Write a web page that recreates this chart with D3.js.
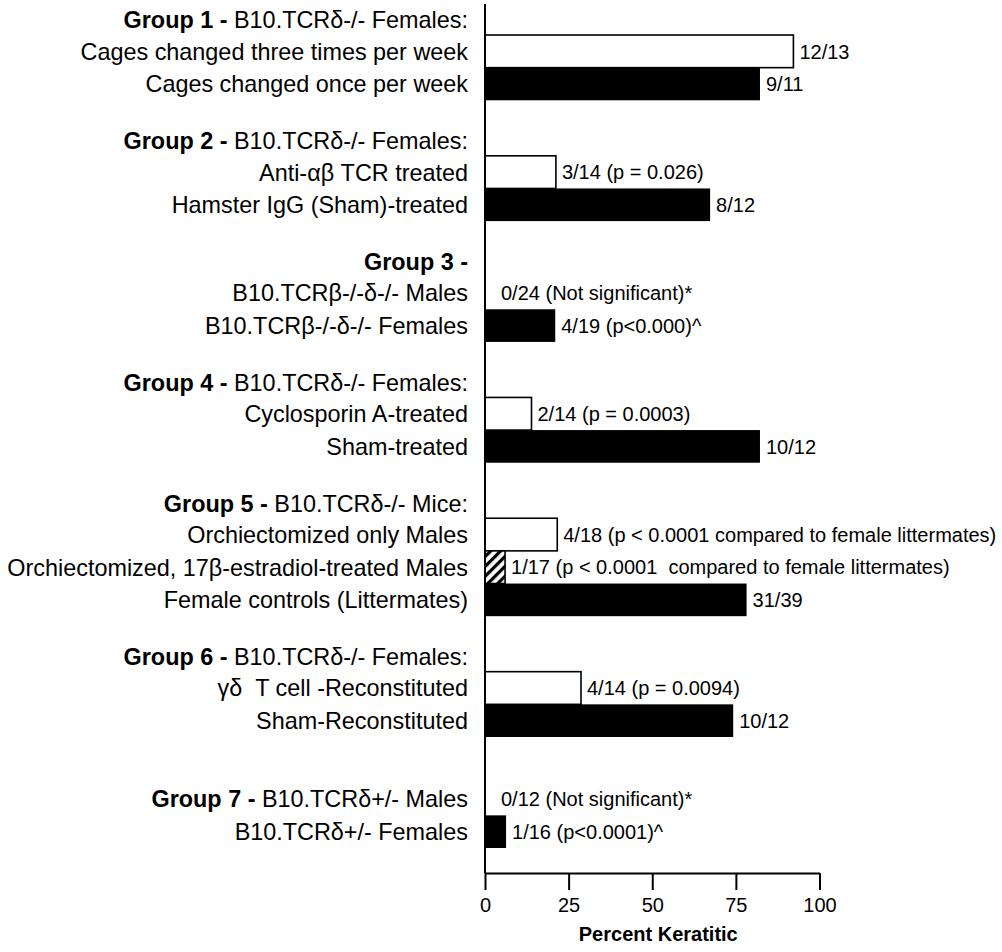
<!DOCTYPE html>
<html>
<head>
<meta charset="utf-8">
<script src="https://cdn.jsdelivr.net/npm/d3@7/dist/d3.min.js"></script>
<style>
  html, body { margin: 0; padding: 0; background: #fff; }
  text { font-family: "Liberation Sans", Arial, Helvetica, sans-serif; fill: #000; white-space: pre; }
</style>
</head>
<body>
<svg id="chart" width="1002" height="952"></svg>
<script>
// ---------- data ----------
const groupBold = ["Group 1 -", "Group 2 -", "Group 3 -", "Group 4 -", "Group 5 -", "Group 6 -", "Group 7 -"];
// null = the group title shares the line of the first bar label
const groupSubtitle = [" B10.TCRδ-/- Females:", " B10.TCRδ-/- Females:", "", " B10.TCRδ-/- Females:", " B10.TCRδ-/- Mice:", " B10.TCRδ-/- Females:", null];

const barGroup = [0, 0, 1, 1, 2, 2, 3, 3, 4, 4, 4, 5, 5, 6, 6];
const barLabels = [
  "Cages changed three times per week",
  "Cages changed once per week",
  "Anti-αβ TCR treated",
  "Hamster IgG (Sham)-treated",
  "B10.TCRβ-/-δ-/- Males",
  "B10.TCRβ-/-δ-/- Females",
  "Cyclosporin A-treated",
  "Sham-treated",
  "Orchiectomized only Males",
  "Orchiectomized, 17β-estradiol-treated Males",
  "Female controls (Littermates)",
  "γδ  T cell -Reconstituted",
  "Sham-Reconstituted",
  "B10.TCRδ+/- Males",
  "B10.TCRδ+/- Females"
];
const barValues = [92.2, 82.2, 21.2, 67.3, 0, 21.0, 13.9, 82.2, 21.6, 6.0, 78.2, 28.7, 74.2, 0, 6.3];
const barKind = ["test", "control", "test", "control", "test", "control", "test", "control",
                 "test", "estradiol", "control", "test", "control", "test", "control"];
const barNotes = [
  "12/13", "9/11",
  "3/14 (p = 0.026)", "8/12",
  "0/24 (Not significant)*", "4/19 (p<0.000)^",
  "2/14 (p = 0.0003)", "10/12",
  "4/18 (p < 0.0001 compared to female littermates)",
  "1/17 (p < 0.0001  compared to female littermates)",
  "31/39",
  "4/14 (p = 0.0094)", "10/12",
  "0/12 (Not significant)*", "1/16 (p<0.0001)^"
];
const xTicks = [0, 25, 50, 75, 100];
const xTitle = "Percent Keratitic";

// ---------- layout ----------
const svg = d3.select("#chart");
const defs = svg.append("defs");
const pat = defs.append("pattern")
  .attr("id", "hatch").attr("patternUnits", "userSpaceOnUse")
  .attr("width", 7).attr("height", 7)
  .attr("patternTransform", "rotate(45)");
pat.append("rect").attr("width", 7).attr("height", 7).attr("fill", "#fff");
pat.append("rect").attr("x", 0).attr("width", 3.2).attr("height", 7).attr("fill", "#000");

const fillScale = d3.scaleOrdinal().domain(["test", "control", "estradiol"]).range(["#fff", "#000", "url(#hatch)"]);

// compute slot positions (in bar units)
const gapWithHeader = 1.7, gapInline = 1.4;
const slots = [];
let u = 0;
barGroup.forEach((g, i) => {
  if (i > 0 && g !== barGroup[i - 1]) u += (groupSubtitle[g] === null ? gapInline : gapWithHeader);
  slots.push(u);
  u += 1;
});
const totalUnits = u;

const x = d3.scaleLinear().domain([0, 100]).range([485, 819.5]);
const y = d3.scaleLinear().domain([0, totalUnits]).range([35, 848]);
const bandH = y(1) - y(0);
const axisY = 873;
const labelX = 468;

const bars = barValues.map((v, i) => ({ v, i, g: barGroup[i], s: slots[i], kind: barKind[i], label: barLabels[i], note: barNotes[i] }));

// bars
svg.append("g").selectAll("rect").data(bars).join("rect")
  .attr("x", x(0))
  .attr("y", d => y(d.s))
  .attr("width", d => Math.max(x(d.v) - x(0), 0.01))
  .attr("height", bandH)
  .attr("fill", d => fillScale(d.kind))
  .attr("stroke", "#000")
  .attr("stroke-width", d => d.kind === "control" ? 0 : 1.6);

// bar annotations
svg.append("g").selectAll("text").data(bars).join("text")
  .attr("x", d => x(d.v) + (d.v === 0 ? 16 : 6))
  .attr("y", d => y(d.s + 0.5))
  .attr("dy", "0.36em")
  .attr("font-size", 20)
  .text(d => d.note);

// left labels
const lbl = svg.append("g").attr("text-anchor", "end").attr("font-size", 23.4);
bars.forEach((d, i) => {
  const first = i === 0 || barGroup[i - 1] !== d.g;
  const t = lbl.append("text").attr("x", labelX).attr("y", y(d.s + 0.5)).attr("dy", "0.36em");
  if (first && groupSubtitle[d.g] === null) {
    t.append("tspan").attr("font-weight", "bold").text(groupBold[d.g] + " ");
  }
  t.append("tspan").text(d.label);
});
// group header lines
groupBold.forEach((b, g) => {
  if (groupSubtitle[g] === null) return;
  const s = slots[barGroup.indexOf(g)];
  const t = lbl.append("text").attr("x", labelX).attr("y", y(s) - 15).attr("dy", "0.36em");
  t.append("tspan").attr("font-weight", "bold").text(b);
  if (groupSubtitle[g]) t.append("tspan").text(groupSubtitle[g]);
});

// axes
const axis = d3.axisBottom(x).tickValues(xTicks).tickSize(17).tickSizeOuter(0).tickPadding(8);
const ax = svg.append("g").attr("transform", `translate(0,${axisY})`).call(axis);
ax.select(".domain").attr("stroke-width", 2);
ax.selectAll(".tick line").attr("stroke-width", 2);
ax.selectAll(".tick text").attr("font-size", 20).attr("font-family", "Liberation Sans, Arial, sans-serif");

svg.append("line")
  .attr("x1", x(0)).attr("x2", x(0))
  .attr("y1", 4).attr("y2", axisY)
  .attr("stroke", "#000").attr("stroke-width", 2);

svg.append("text")
  .attr("x", (x(0) + x(100)) / 2 + 6)
  .attr("y", 941)
  .attr("text-anchor", "middle")
  .attr("font-size", 20)
  .attr("font-weight", "bold")
  .text(xTitle);
</script>
</body>
</html>
